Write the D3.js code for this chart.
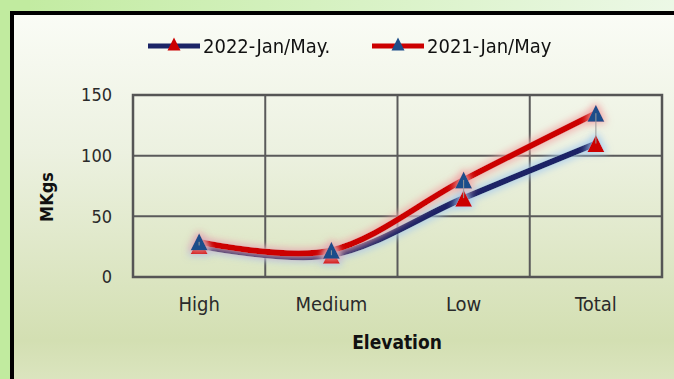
<!DOCTYPE html>
<html>
<head>
<meta charset="utf-8">
<script src="https://cdn.jsdelivr.net/npm/d3@7"></script>
<style>
  html, body { margin: 0; padding: 0; background: #c3eca1; }
  svg { display: block; }
</style>
</head>
<body>
<svg id="chart" width="674" height="379"></svg>
<script>
// Production by elevation, million kilograms
const categories = ["High", "Medium", "Low", "Total"];
const values2022 = [26, 18, 65, 110];
const values2021 = [29, 22, 80, 135];
const yTicks = [0, 50, 100, 150];
const seriesNames = ["2022-Jan/May.", "2021-Jan/May"];

const W = 674, H = 379;
const plot = { left: 133, right: 662, top: 95, bottom: 277 };
const FONT = "'DejaVu Sans Condensed', 'Open Sans', sans-serif";

const svg = d3.select("#chart");
const defs = svg.append("defs");

// outer backdrop: green fading to pale on the right
const bg = defs.append("linearGradient").attr("id", "bgGrad").attr("x1", 0).attr("x2", 1).attr("y1", 0).attr("y2", 0);
bg.append("stop").attr("offset", "0%").attr("stop-color", "#c1eb9f");
bg.append("stop").attr("offset", "100%").attr("stop-color", "#ecf8e6");

// panel fill: near-white at top, olive-green lower down
const pg = defs.append("linearGradient").attr("id", "panelGrad").attr("x1", 0).attr("x2", 0).attr("y1", 0).attr("y2", 1);
pg.append("stop").attr("offset", "0%").attr("stop-color", "#fafcf6");
pg.append("stop").attr("offset", "35%").attr("stop-color", "#ecf1e0");
pg.append("stop").attr("offset", "82%").attr("stop-color", "#d3dfb2");
pg.append("stop").attr("offset", "100%").attr("stop-color", "#e1e9c9");

// soft glow behind each series line
function glow(id, color, sd) {
  const f = defs.append("filter").attr("id", id).attr("x", "-30%").attr("y", "-60%").attr("width", "160%").attr("height", "220%");
  f.append("feMorphology").attr("in", "SourceAlpha").attr("operator", "dilate").attr("radius", 2).attr("result", "d");
  f.append("feGaussianBlur").attr("in", "d").attr("stdDeviation", sd).attr("result", "b");
  f.append("feFlood").attr("flood-color", color).attr("flood-opacity", 0.8);
  f.append("feComposite").attr("in2", "b").attr("operator", "in").attr("result", "g");
  const m = f.append("feMerge");
  m.append("feMergeNode").attr("in", "g");
  m.append("feMergeNode").attr("in", "SourceGraphic");
}
glow("glowRed", "#f1a9a9", 3.5);
glow("glowBlue", "#a7cbee", 3.5);

svg.append("rect").attr("width", W).attr("height", H).attr("fill", "url(#bgGrad)");
svg.append("rect").attr("x", 0).attr("y", 0).attr("width", 30).attr("height", H).attr("fill", "#c1eb9f");

// chart panel with heavy black frame
svg.append("rect").attr("x", 12).attr("y", 13).attr("width", W + 20).attr("height", H + 20)
  .attr("fill", "url(#panelGrad)").attr("stroke", "#000").attr("stroke-width", 4);

const x = d3.scaleBand().domain(categories).range([plot.left, plot.right]).padding(0);
const y = d3.scaleLinear().domain([0, 150]).range([plot.bottom, plot.top]);
const cx = d => x(d) + x.bandwidth() / 2;

// gridlines
const grid = svg.append("g").attr("stroke", "#5a5a5a").attr("stroke-width", 2);
yTicks.forEach(t => grid.append("line").attr("x1", plot.left).attr("x2", plot.right).attr("y1", y(t)).attr("y2", y(t)));
categories.forEach((c, i) => {
  if (i > 0) grid.append("line").attr("x1", x(c)).attr("x2", x(c)).attr("y1", plot.top).attr("y2", plot.bottom);
});
svg.append("rect").attr("x", plot.left).attr("y", plot.top).attr("width", plot.right - plot.left).attr("height", plot.bottom - plot.top)
  .attr("fill", "none").attr("stroke", "#555").attr("stroke-width", 2.5);

// y axis labels
const yAxis = d3.axisLeft(y).tickValues(yTicks).tickSize(0).tickPadding(21);
const ya = svg.append("g").attr("transform", `translate(${plot.left},0)`).call(yAxis);
ya.select(".domain").remove();
ya.selectAll("text").attr("font-family", FONT).attr("font-size", 18).attr("fill", "#2a2a2a");

// x axis labels
const xAxis = d3.axisBottom(x).tickSize(0).tickPadding(20);
const xa = svg.append("g").attr("transform", `translate(0,${plot.bottom})`).call(xAxis);
xa.select(".domain").remove();
xa.selectAll("text").attr("font-family", FONT).attr("font-size", 20).attr("fill", "#2a2a2a");

// axis titles
svg.append("text").attr("x", 397).attr("y", 349).attr("text-anchor", "middle")
  .attr("font-family", FONT).attr("font-size", 19).attr("font-weight", "bold").attr("fill", "#111").text("Elevation");
svg.append("text").attr("transform", "translate(53,197) rotate(-90)").attr("text-anchor", "middle")
  .attr("font-family", FONT).attr("font-size", 18).attr("font-weight", "bold").attr("fill", "#111").text("MKgs");

// smoothed series lines
const line = d3.line().x((d, i) => cx(categories[i])).y(d => y(d)).curve(d3.curveCatmullRom.alpha(0));
svg.append("path").datum(values2022).attr("d", line).attr("fill", "none")
  .attr("stroke", "#1b2466").attr("stroke-width", 6).attr("filter", "url(#glowBlue)");
svg.append("path").datum(values2021).attr("d", line).attr("fill", "none")
  .attr("stroke", "#cc0000").attr("stroke-width", 6).attr("filter", "url(#glowRed)");

// triangle markers (width w, height h, centred on the value)
const triPath = (w, h) => `M0,${-h / 2}L${w / 2},${h / 2}L${-w / 2},${h / 2}Z`;
function markers(vals, color, glowId) {
  svg.append("g").attr("filter", `url(#${glowId})`).selectAll("path").data(vals).join("path")
    .attr("d", triPath(17, 17)).attr("fill", color)
    .attr("transform", (d, i) => `translate(${cx(categories[i])},${y(d)})`);
}
markers(values2022, "#cc0000", "glowBlue");
markers(values2021, "#1f4e8a", "glowRed");

// high-low connectors between the two series
svg.append("g").selectAll("line").data(categories).join("line")
  .attr("x1", c => cx(c)).attr("x2", c => cx(c))
  .attr("y1", (c, i) => y(Math.max(values2021[i], values2022[i])))
  .attr("y2", (c, i) => y(Math.min(values2021[i], values2022[i])))
  .attr("stroke", "#9a9a9a").attr("stroke-width", 1);

// legend
const legend = [
  { name: seriesNames[0], line: "#1b2466", mark: "#cc0000", x: 148 },
  { name: seriesNames[1], line: "#cc0000", mark: "#1f4e8a", x: 372 }
];
const lg = svg.append("g");
legend.forEach(l => {
  lg.append("line").attr("x1", l.x).attr("x2", l.x + 52).attr("y1", 46).attr("y2", 46)
    .attr("stroke", l.line).attr("stroke-width", 5);
  lg.append("path").attr("d", triPath(13, 13)).attr("fill", l.mark)
    .attr("transform", `translate(${l.x + 26},44)`);
  lg.append("text").attr("x", l.x + 55).attr("y", 53).attr("font-family", FONT).attr("font-size", 20)
    .attr("fill", "#111").text(l.name);
});
</script>
</body>
</html>
